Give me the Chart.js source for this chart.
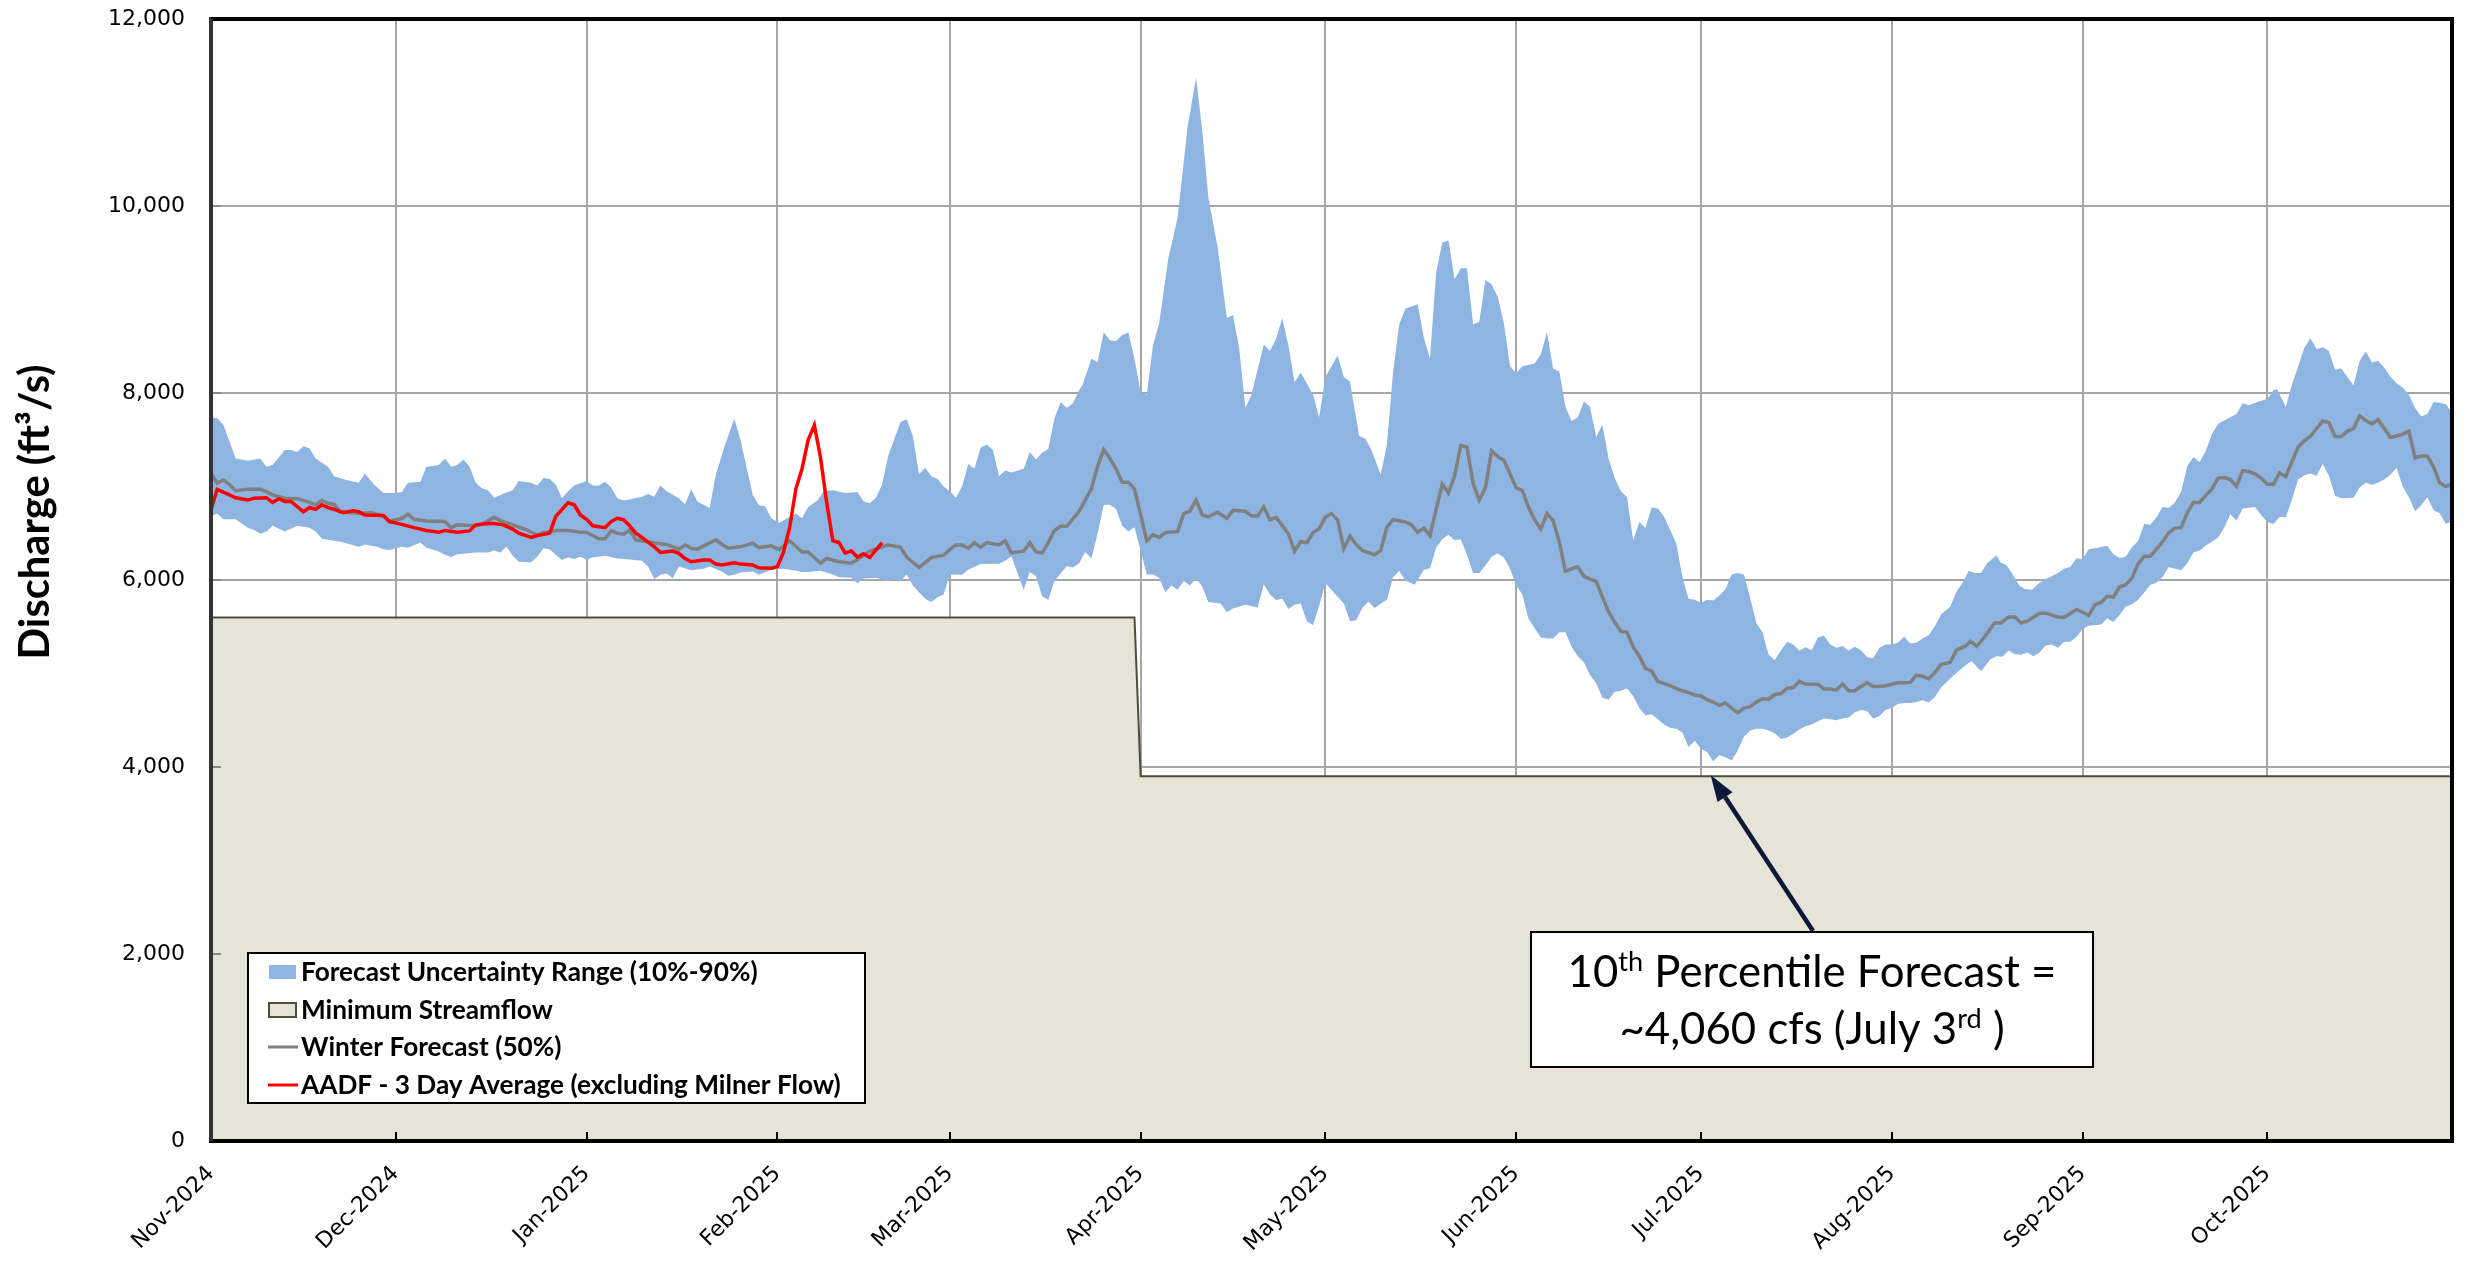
<!DOCTYPE html>
<html><head><meta charset="utf-8">
<script src="https://cdn.jsdelivr.net/npm/chart.js@4.4.1/dist/chart.umd.min.js"></script>
<style>html,body{margin:0;padding:0;background:#fff;}#wrap{width:2475px;height:1261px;position:relative;}</style>
</head><body><div id="wrap"><canvas id="c"></canvas></div>
<script>
// x values are days since 1 Nov 2024
const monthStarts = [0,30,61,92,120,151,181,212,242,273,304,334];
const monthLabels = ['Nov-2024','Dec-2024','Jan-2025','Feb-2025','Mar-2025','Apr-2025','May-2025','Jun-2025','Jul-2025','Aug-2025','Sep-2025','Oct-2025'];
const yTicks = [0,2000,4000,6000,8000,10000,12000];

const minStreamflow = [[0,5600],[150,5600],[151,3900],[364,3900]];

const p90 = [[0,7740],[1,7730],[2,7660],[4,7300],[6,7275],[8,7300],[9,7210],[10,7230],[12,7390],[13,7390],[14,7370],[15,7430],[16,7410],[17,7300],[19,7210],[20,7110],[22,7070],[24,7040],[25,7140],[26.5,7020],[28,6930],[30,6930],[31,6940],[32,7040],[34,7050],[35,7210],[37,7230],[38,7300],[39,7210],[40,7230],[41,7290],[42,7210],[43,7040],[44,6980],[45,6960],[46,6880],[47,6910],[49,6960],[50,7060],[52,7040],[53,7010],[54,7090],[55,7080],[56,7020],[57,6875],[58,6950],[59,7010],[61,7060],[62,7010],[63,7010],[64,7050],[65,6990],[66,6875],[67,6850],[68,6860],[70,6890],[71,6920],[72,6890],[73,7010],[74,6950],[76,6875],[77,6810],[78,6970],[79,6840],[81,6770],[82,7125],[83.5,7450],[85,7725],[86,7500],[87,7200],[88,6910],[89,6800],[90,6790],[91,6660],[92.3,6610],[93,6640],[95,6710],[96,6660],[97,6780],[98.5,6850],[99.5,6950],[101,6960],[103,6930],[105,6940],[106,6840],[107,6820],[108,6880],[109,7020],[110,7330],[112,7690],[113,7720],[114,7540],[115,7130],[116,7200],[117,7110],[118,7080],[119,7000],[120,6950],[121,6880],[122,7000],[123,7240],[124,7190],[125,7415],[126,7450],[127,7390],[128,7110],[129,7170],[130,7150],[132,7190],[133,7370],[134,7290],[135,7360],[136,7400],[137,7730],[138,7900],[139,7840],[140,7890],[141,8030],[141.6,8090],[143,8365],[144,8330],[145,8650],[146,8565],[147,8555],[148,8620],[149,8650],[150,8365],[151,8005],[152,7980],[153,8510],[154,8740],[155.5,9440],[157,9875],[158.6,10835],[160,11375],[161,10810],[162,10090],[163.5,9560],[165,8800],[166,8835],[167,8480],[168,7840],[169,7980],[171,8520],[172,8450],[173,8580],[174,8800],[175,8510],[176,8115],[177,8220],[179,7980],[180,7740],[181,8170],[183,8400],[184,8170],[185,8120],[186.5,7540],[187.5,7510],[188.5,7390],[190,7125],[191,7450],[192,8220],[193,8735],[194,8900],[196,8950],[197,8590],[198,8370],[199,9290],[200,9610],[201,9630],[202,9215],[203,9335],[204,9335],[205,8735],[206,8760],[207,9210],[208,9160],[209,9030],[210,8745],[211,8285],[212,8210],[213,8285],[215,8315],[216,8415],[217,8650],[218,8260],[219,8230],[220,7850],[221,7700],[222,7740],[223,7910],[224,7850],[225,7530],[226,7660],[227,7300],[228,7090],[229,6950],[230,6885],[231,6425],[232,6620],[233,6555],[234,6775],[235,6765],[236,6680],[237,6535],[238,6390],[239,6030],[240,5800],[241,5790],[242,5755],[243,5790],[244,5780],[245,5835],[246,5900],[247,6060],[248,6075],[249,6055],[250,5810],[251,5540],[252,5440],[253,5200],[254,5145],[255,5245],[256,5340],[257,5310],[258,5245],[259,5280],[260,5250],[261,5385],[262,5405],[263,5310],[264,5275],[265,5295],[266,5245],[267,5285],[268,5250],[269,5175],[270,5165],[271,5275],[272,5310],[273,5310],[274,5330],[275,5395],[276,5320],[277,5330],[278,5375],[279,5410],[280,5505],[281,5630],[282.5,5715],[283.5,5875],[284.5,5970],[285.5,6100],[286.5,6075],[287.5,6075],[288.5,6180],[290,6265],[290.7,6185],[291.6,6160],[292.5,6075],[293.7,5940],[294.6,5905],[295.8,5895],[297,5970],[298,6010],[298.8,6035],[300,6075],[301,6120],[302,6140],[303,6230],[304,6225],[305,6330],[306,6340],[308,6365],[309,6275],[310,6235],[311,6250],[312,6350],[313,6415],[314,6600],[315,6590],[316,6670],[317,6780],[318,6770],[319,6830],[320,6945],[321,7220],[322,7315],[323,7260],[324,7380],[325,7560],[326,7670],[327,7705],[329,7775],[330,7890],[331,7870],[332.6,7910],[334,7935],[335,8030],[335.6,8040],[337,7850],[338,8090],[339,8280],[340,8480],[341,8585],[342,8470],[343,8490],[344,8450],[345,8250],[346,8265],[347,8170],[348,8080],[349,8345],[350,8445],[351,8325],[352,8345],[353,8270],[354,8175],[355,8105],[356,8055],[357,7980],[358,7840],[359,7750],[360,7775],[361,7905],[362,7895],[363,7880],[364,7790]];

const p10 = [[0,6680],[1,6710],[2,6650],[4,6650],[6,6560],[7,6535],[8,6495],[9,6520],[10,6580],[12,6520],[14,6580],[16,6560],[17,6520],[18,6440],[21,6410],[23,6375],[24,6355],[25,6380],[27,6355],[28,6330],[29,6320],[31,6355],[32,6345],[34,6400],[35,6345],[37,6305],[38,6270],[39,6245],[40,6275],[43,6295],[45,6295],[46,6315],[47,6295],[48,6355],[49,6260],[50,6195],[52,6190],[53,6250],[54,6340],[55,6330],[56,6270],[57,6215],[58,6240],[59,6225],[60,6250],[61,6220],[62,6240],[64,6260],[66,6230],[68,6220],[70,6205],[71,6145],[72,6010],[73,6055],[74,6070],[75,6020],[76,6145],[78,6105],[80,6120],[81,6145],[83,6090],[84,6045],[85,6055],[86,6080],[88,6090],[89,6055],[91,6110],[93,6120],[95,6100],[96,6085],[97,6085],[99,6100],[101,6060],[102,6030],[104,6025],[105,5965],[106,6015],[108,6025],[110,5990],[111,6015],[112,5990],[113,6060],[114,5940],[116,5800],[117,5765],[118,5815],[119,5845],[120,6060],[122,6055],[123,6110],[125,6170],[128,6175],[129,6205],[130,6255],[132,5895],[133,6085],[134,6040],[135,5825],[136,5785],[137,5990],[139,6150],[140,6135],[141,6180],[142,6300],[143,6230],[144,6495],[145,6805],[146,6805],[147,6760],[148,6580],[149,6520],[150,6565],[152,6060],[153,6060],[154,6025],[155,5870],[156,5940],[157,5895],[158,5990],[159,5940],[160,6015],[161,5930],[162,5765],[164,5750],[165,5655],[166,5695],[168,5735],[170,5705],[171,5955],[172,5845],[173,5785],[174,5800],[175,5690],[176,5735],[177,5750],[178,5560],[179,5520],[180,5725],[181,5965],[184,5750],[185,5560],[186,5570],[187,5700],[188,5770],[189,5700],[190,5745],[191,5790],[192,6030],[193,6095],[194,5995],[195.5,5950],[197,6110],[198,6125],[199,6345],[200,6435],[201,6485],[202,6425],[203,6435],[204,6270],[205,6075],[206,6075],[207,6155],[208,6250],[209,6285],[210,6240],[211,6120],[212,5945],[213,5845],[214,5585],[215,5485],[216,5385],[217,5375],[218,5375],[219,5440],[220,5440],[221,5285],[222,5185],[223,5120],[224,4980],[225,4895],[226,4740],[227,4720],[228,4805],[229,4815],[230,4840],[231,4760],[232,4630],[233,4550],[234,4565],[235,4510],[236,4455],[237,4420],[238,4410],[239,4370],[240,4215],[241,4280],[242,4195],[243,4160],[244,4060],[245,4125],[246,4105],[247,4070],[248,4180],[249,4325],[250,4390],[251,4410],[252,4410],[253,4390],[254,4360],[255,4300],[256,4315],[257,4355],[258,4400],[259,4435],[260,4455],[261,4490],[262,4520],[263,4510],[264,4500],[265,4520],[266,4530],[267,4585],[268,4610],[269,4595],[270,4520],[271,4545],[272,4610],[273,4630],[274,4675],[275,4685],[276,4685],[277,4695],[278,4715],[279,4690],[280,4750],[281,4850],[283,4975],[285,5090],[286,5130],[287.5,5025],[289,5150],[290,5185],[291,5180],[292,5245],[293,5205],[294,5200],[295,5225],[296,5185],[297,5225],[298,5300],[299,5310],[300,5275],[301,5340],[302,5340],[303,5390],[304,5475],[305,5510],[307,5525],[308,5590],[309,5550],[310,5625],[311,5715],[312,5740],[313,5785],[314,5865],[315,5950],[316,5970],[317,6035],[318,6140],[319,6120],[320,6105],[321,6180],[322,6295],[323,6315],[324,6370],[325,6410],[326,6455],[327,6560],[328,6705],[329,6635],[330,6765],[332,6780],[333,6695],[334,6620],[335,6600],[336,6675],[337,6670],[338,6860],[339,7075],[340,7120],[341,7140],[342,7115],[343,7240],[344,7115],[345,6905],[346,6875],[348,6880],[349,6990],[350,7040],[351,7020],[352,7040],[353,7075],[354,7125],[355,7200],[356,7000],[357,6885],[358,6735],[359,6800],[360,6885],[361,6750],[362,6715],[363,6600],[364,6630]];

const p50 = [[0,7140],[1,7035],[2,7070],[3,7020],[4,6955],[6,6970],[8,6970],[9,6945],[10,6910],[12,6875],[14,6870],[16,6830],[17,6805],[18,6850],[19,6820],[20,6810],[21,6730],[24,6715],[26,6720],[28,6685],[29,6625],[31,6660],[32,6705],[33,6650],[35,6630],[38,6625],[39,6560],[40,6590],[43,6580],[44,6595],[46,6670],[47,6635],[49,6590],[51,6545],[53,6480],[54,6505],[56,6530],[58,6530],[60,6510],[61,6510],[63,6440],[64,6440],[65,6525],[66,6500],[67,6490],[68,6535],[69,6430],[72,6395],[74,6380],[76,6330],[77,6375],[78,6340],[79,6330],[82,6430],[83,6380],[84,6340],[86,6355],[88,6395],[89,6345],[91,6365],[92.3,6325],[94,6420],[96,6300],[97,6300],[99,6180],[100,6230],[102,6195],[104,6180],[105,6220],[107,6310],[110,6375],[112,6350],[113,6245],[114,6190],[115,6135],[117,6240],[119,6265],[120,6325],[121,6375],[122,6375],[123,6340],[124,6400],[125,6350],[126,6400],[128,6375],[129,6420],[130,6290],[132,6310],[133,6400],[134,6300],[135,6290],[136,6400],[137,6530],[138,6575],[139,6575],[141,6735],[142,6855],[143,6975],[144,7215],[145,7395],[146,7300],[147,7190],[148,7045],[149,7045],[150,6975],[152,6420],[153,6485],[154,6455],[155,6505],[157,6520],[158,6710],[159,6735],[160,6855],[161,6695],[162,6675],[163.5,6725],[165,6660],[166,6745],[168,6735],[169,6685],[170,6685],[171,6780],[172,6645],[173,6670],[175,6495],[176,6310],[177,6410],[178,6400],[179,6505],[180,6550],[181,6670],[182,6710],[183,6640],[184,6335],[185,6470],[186,6380],[187,6315],[189,6270],[190,6315],[191,6565],[192,6645],[194,6620],[195,6590],[196,6510],[197,6555],[198,6475],[199,6755],[200,7025],[201,6930],[202,7115],[203,7440],[204,7420],[205,7035],[206,6855],[207,6985],[208,7380],[209,7320],[210,7280],[211,7135],[212,6985],[213,6960],[214,6775],[215,6645],[216,6545],[217,6710],[218,6635],[219,6405],[220,6095],[221,6120],[222,6140],[223,6040],[224,6010],[225,5985],[226,5820],[227,5660],[228,5550],[229,5450],[230,5440],[231,5285],[232,5185],[233,5055],[234,5025],[235,4915],[236,4895],[237,4870],[238,4840],[239,4815],[240,4795],[241,4770],[242,4760],[243,4720],[244,4695],[245,4660],[246,4685],[247,4630],[248,4580],[249,4630],[250,4645],[251,4695],[252,4730],[253,4725],[254,4775],[255,4785],[256,4840],[257,4850],[258,4915],[259,4885],[260,4885],[261,4885],[262,4835],[263,4835],[264,4825],[265,4885],[266,4815],[267,4815],[268,4860],[269,4900],[270,4860],[271,4860],[272,4870],[273,4885],[274,4900],[275,4900],[276,4905],[277,4980],[278,4970],[279,4945],[280,5010],[281,5095],[282.5,5120],[283.5,5250],[285,5295],[285.8,5345],[286.8,5290],[288,5385],[289.7,5540],[290.7,5540],[292,5605],[293,5605],[294,5540],[295,5560],[297,5645],[298,5645],[300,5605],[301,5600],[303,5685],[304,5655],[305,5620],[306,5735],[307,5760],[308,5825],[309,5815],[310,5925],[311,5950],[312,6020],[313,6170],[314,6255],[315,6255],[316,6330],[317,6410],[318,6505],[319,6555],[320,6560],[321,6720],[322,6830],[323,6830],[324,6905],[325,6975],[326,7090],[327,7095],[328,7075],[329,7000],[330,7170],[331,7160],[332,7135],[333,7090],[334,7025],[335,7025],[336,7145],[337,7105],[338,7265],[339,7420],[340,7490],[341,7535],[342,7620],[343,7700],[344,7685],[345,7535],[346,7535],[347,7590],[348,7620],[349,7755],[350,7705],[351,7670],[352,7715],[353,7620],[354,7525],[355,7540],[356,7560],[357,7590],[358,7305],[359,7325],[360,7325],[361,7210],[362,7040],[363,7000],[364,7025]];

const aadf = [[0,6750],[1,6970],[3,6910],[4,6880],[6,6855],[7,6875],[9,6880],[10,6830],[11,6870],[12,6840],[13,6840],[15,6730],[16,6775],[17,6755],[18,6805],[19,6775],[20,6755],[21.5,6720],[23,6740],[24,6730],[25,6695],[28,6690],[29,6625],[31,6595],[33,6560],[35,6530],[37,6510],[38,6530],[40,6510],[42,6525],[43,6590],[45,6605],[46,6605],[47.5,6590],[49,6545],[50,6500],[52,6455],[53,6475],[55,6500],[56,6680],[58,6825],[59,6805],[60,6695],[61,6650],[62,6580],[64,6560],[65,6625],[66,6660],[67,6645],[68,6580],[69,6500],[70,6455],[72,6355],[73,6295],[75,6310],[76,6285],[77,6230],[78,6195],[80,6215],[81,6215],[82,6170],[83,6160],[85,6185],[86,6170],[88,6160],[89,6130],[91,6125],[92,6145],[93,6300],[94,6565],[95,6975],[96,7190],[97,7500],[98,7655],[99,7310],[100,6830],[101,6420],[102,6400],[103,6290],[104,6310],[105,6245],[106,6280],[107,6240],[109,6400]];

const yTitle = 'Discharge (ft\u00B3/s)';
const legendLabels = ['Forecast Uncertainty Range (10%-90%)','Minimum Streamflow','Winter Forecast (50%)','AADF - 3 Day Average (excluding Milner Flow)'];
const noteLine1 = [['10',false],['th',true],[' Percentile Forecast =',false]];
const noteLine2 = [['~4,060 cfs (July 3',false],['rd',true],[' )',false]];

const C = {band:'#8eb4e2', minFill:'#e5e4d7', minLine:'#4d4d38', median:'#808080', red:'#ff0000', grid:'#a6a6a6'};
const xy = a => a.map(p => ({x:p[0], y:p[1]}));

function fitSize(ctx, weight, family, text, target){
  ctx.font = weight + ' 100px ' + family;
  return 100 * target / ctx.measureText(text).width;
}

const overlay = {
  id:'overlay',
  afterDatasetsDraw(chart){
    const {ctx, chartArea:a, scales:{x, y}} = chart;
    ctx.save();
    ctx.strokeStyle = '#888'; ctx.lineWidth = 2;
    yTicks.forEach(v => { const py = Math.round(y.getPixelForValue(v)); ctx.beginPath(); ctx.moveTo(a.left, py); ctx.lineTo(a.left + 10, py); ctx.stroke(); });
    ctx.strokeStyle = '#000';
    monthStarts.forEach(v => { const px = Math.round(x.getPixelForValue(v)); ctx.beginPath(); ctx.moveTo(px, a.bottom); ctx.lineTo(px, a.bottom - 9); ctx.stroke(); });
    ctx.lineWidth = 4; ctx.strokeStyle = '#000';
    ctx.beginPath(); ctx.moveTo(a.left, a.top); ctx.lineTo(a.right, a.top); ctx.lineTo(a.right, a.bottom); ctx.lineTo(a.left - 2, a.bottom); ctx.stroke();
    ctx.strokeStyle = '#333';
    ctx.beginPath(); ctx.moveTo(a.left, a.top); ctx.lineTo(a.left, a.bottom); ctx.stroke();
    ctx.restore();
  },
  afterDraw(chart){
    const {ctx, scales:{x, y}} = chart;
    ctx.save();
    const ts = fitSize(ctx, 'bold', 'Lato', yTitle, 295);
    ctx.translate(36, 512); ctx.rotate(-Math.PI/2);
    ctx.font = 'bold ' + ts + 'px Lato'; ctx.fillStyle = '#000'; ctx.textAlign = 'center'; ctx.textBaseline = 'middle';
    ctx.fillText(yTitle, 0, 0);
    ctx.setTransform(1,0,0,1,0,0);

    const L = {x:248, y:953, w:617, h:150};
    ctx.fillStyle = '#fff'; ctx.fillRect(L.x, L.y, L.w, L.h);
    ctx.strokeStyle = '#000'; ctx.lineWidth = 2; ctx.strokeRect(L.x, L.y, L.w, L.h);
    const ls = fitSize(ctx, 'bold', 'Lato', legendLabels[3], 540);
    const rows = [972, 1010, 1047, 1085];
    ctx.font = 'bold ' + ls + 'px Lato'; ctx.textAlign = 'left'; ctx.textBaseline = 'middle'; ctx.fillStyle = '#000';
    legendLabels.forEach((t, i) => ctx.fillText(t, 301, rows[i] + 1));
    ctx.fillStyle = C.band; ctx.fillRect(269, rows[0] - 7, 27, 14);
    ctx.fillStyle = C.minFill; ctx.fillRect(269, rows[1] - 7, 27, 14);
    ctx.strokeStyle = C.minLine; ctx.lineWidth = 2; ctx.strokeRect(269, rows[1] - 7, 27, 14);
    ctx.lineWidth = 3;
    ctx.strokeStyle = C.median; ctx.beginPath(); ctx.moveTo(268, rows[2]); ctx.lineTo(298, rows[2]); ctx.stroke();
    ctx.strokeStyle = C.red; ctx.beginPath(); ctx.moveTo(268, rows[3]); ctx.lineTo(298, rows[3]); ctx.stroke();

    const tip = {x:x.getPixelForValue(243.6), y:y.getPixelForValue(3900) - 1};
    const tail = {x:1813, y:931};
    const ang = Math.atan2(tip.y - tail.y, tip.x - tail.x);
    const hl = 26, hw = 9;
    const bx = tip.x - hl*Math.cos(ang), by = tip.y - hl*Math.sin(ang);
    ctx.strokeStyle = '#0c1838'; ctx.fillStyle = '#0c1838'; ctx.lineWidth = 4.5;
    ctx.beginPath(); ctx.moveTo(tail.x, tail.y); ctx.lineTo(bx, by); ctx.stroke();
    ctx.beginPath(); ctx.moveTo(tip.x, tip.y);
    ctx.lineTo(bx + hw*Math.sin(ang), by - hw*Math.cos(ang));
    ctx.lineTo(bx - hw*Math.sin(ang), by + hw*Math.cos(ang)); ctx.closePath(); ctx.fill();

    const B = {x:1531, y:932, w:562, h:135};
    ctx.fillStyle = '#fff'; ctx.fillRect(B.x, B.y, B.w, B.h);
    ctx.strokeStyle = '#000'; ctx.lineWidth = 2; ctx.strokeRect(B.x, B.y, B.w, B.h);
    function segWidth(segs, s){ let w = 0; segs.forEach(([t, sup]) => { ctx.font = (sup ? s*0.62 : s) + 'px Lato'; w += ctx.measureText(t).width; }); return w; }
    const base = 100 * 489 / segWidth(noteLine1, 100);
    function drawSegs(segs, cx, by){
      const w = segWidth(segs, base); let px = cx - w/2;
      ctx.textAlign = 'left'; ctx.textBaseline = 'alphabetic'; ctx.fillStyle = '#000';
      segs.forEach(([t, sup]) => { const s = sup ? base*0.62 : base; ctx.font = s + 'px Lato'; ctx.fillText(t, px, sup ? by - base*0.36 : by); px += ctx.measureText(t).width; });
    }
    drawSegs(noteLine1, B.x + B.w/2, 987);
    drawSegs(noteLine2, B.x + B.w/2, 1044);
    ctx.restore();
  }
};

new Chart(document.getElementById('c'), {
  type:'line',
  data:{datasets:[
    {label:'Minimum Streamflow', data:xy(minStreamflow), fill:'origin', backgroundColor:C.minFill, borderColor:C.minLine, borderWidth:2, pointRadius:0, order:10},
    {label:'Forecast 90%', data:xy(p90), fill:'+1', backgroundColor:C.band, borderColor:C.band, borderWidth:0, pointRadius:0, order:8},
    {label:'Forecast 10%', data:xy(p10), fill:false, backgroundColor:C.band, borderColor:C.band, borderWidth:0, pointRadius:0, order:7},
    {label:'Winter Forecast (50%)', data:xy(p50), fill:false, borderColor:C.median, borderWidth:3.5, pointRadius:0, order:2},
    {label:'AADF - 3 Day Average (excluding Milner Flow)', data:xy(aadf), fill:false, borderColor:C.red, borderWidth:3.5, pointRadius:0, order:1}
  ]},
  options:{
    responsive:true, maintainAspectRatio:false, animation:false, devicePixelRatio:1,
    layout:{padding:{top:19, right:23, left:0, bottom:0}},
    plugins:{legend:{display:false}, tooltip:{enabled:false}},
    elements:{line:{tension:0}},
    scales:{
      x:{type:'linear', min:0, max:364,
        afterBuildTicks(s){ s.ticks = monthStarts.map(v => ({value:v})); },
        afterFit(s){ s.height = 120; s.paddingLeft = 0; s.paddingRight = 0; },
        grid:{color:C.grid, lineWidth:2, drawTicks:false},
        border:{display:true, color:'#000', width:4},
        ticks:{autoSkip:false, minRotation:45, maxRotation:45, padding:20, color:'#000', font:{family:'DejaVu Sans', size:22},
          callback:v => monthLabels[monthStarts.indexOf(v)] || ''}
      },
      y:{min:0, max:12000,
        afterBuildTicks(s){ s.ticks = yTicks.map(v => ({value:v})); },
        afterFit(s){ s.width = 211; s.paddingTop = 0; s.paddingBottom = 0; },
        grid:{color:C.grid, lineWidth:2, drawTicks:false},
        border:{display:true, color:'#333', width:4},
        ticks:{padding:26, color:'#000', font:{family:'DejaVu Sans', size:22}, callback:v => v.toLocaleString('en-US')}
      }
    }
  },
  plugins:[overlay]
});
</script></body></html>
